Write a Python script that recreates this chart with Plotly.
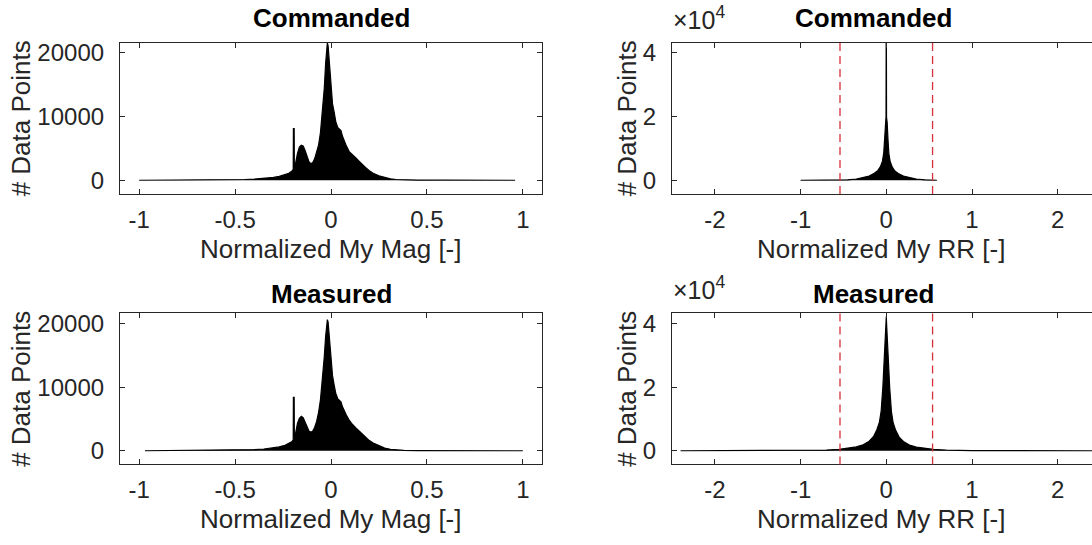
import plotly.graph_objects as go

# ---------------- data ----------------
mag_x_cmd = [-1.00, -0.80, -0.60, -0.50, -0.45, -0.40, -0.35, -0.30, -0.27, -0.24, -0.22, -0.205,
             -0.197, -0.196, -0.192, -0.191, -0.185, -0.175, -0.165, -0.155, -0.145, -0.135, -0.125,
             -0.115, -0.105, -0.095, -0.085, -0.075, -0.065, -0.055, -0.045, -0.035, -0.028, -0.022,
             -0.019, -0.015, -0.010, -0.005, 0.000, 0.008, 0.016, 0.025, 0.035, 0.045, 0.052, 0.060,
             0.070, 0.080, 0.095, 0.110, 0.130, 0.150, 0.165, 0.180, 0.200, 0.220, 0.250, 0.280,
             0.310, 0.340, 0.380, 0.450, 0.600, 0.800, 0.960]
mag_y_cmd = [0, 20, 40, 80, 120, 180, 280, 450, 600, 850, 1100, 1400,
             1700, 8100, 8100, 2000, 2600, 4200, 5200, 5500, 5400, 4700, 3700,
             2900, 2600, 2800, 3400, 4300, 5500, 7500, 10500, 14500, 18400, 21000,
             21600, 21100, 19000, 16500, 14500, 12000, 10800, 9200, 8300, 8000, 7800, 6900,
             6100, 5400, 4500, 4000, 3500, 2900, 2400, 2000, 1500, 1100, 700, 400,
             220, 120, 60, 25, 10, 5, 0]

mag_x_meas = [-0.97, -0.80, -0.60, -0.50, -0.45, -0.40, -0.35, -0.30, -0.27, -0.24, -0.22, -0.205,
              -0.197, -0.196, -0.192, -0.191, -0.185, -0.175, -0.165, -0.155, -0.145, -0.135, -0.125,
              -0.115, -0.105, -0.095, -0.085, -0.075, -0.065, -0.055, -0.045, -0.035, -0.028, -0.022,
              -0.019, -0.015, -0.010, -0.005, 0.000, 0.008, 0.016, 0.025, 0.035, 0.045, 0.052, 0.060,
              0.070, 0.080, 0.095, 0.110, 0.130, 0.150, 0.165, 0.180, 0.200, 0.220, 0.250, 0.280,
              0.310, 0.340, 0.380, 0.450, 0.600, 0.800, 1.000]
mag_y_meas = [0, 20, 40, 80, 120, 180, 280, 450, 600, 850, 1100, 1400,
              1700, 8400, 8400, 2100, 2700, 4300, 5100, 5400, 5200, 4600, 3800,
              3100, 2900, 3100, 3700, 4600, 6000, 8000, 11000, 14800, 18000, 20000,
              20600, 20200, 18200, 16000, 14000, 11800, 10400, 9000, 8200, 7900, 7700, 6900,
              6200, 5600, 4800, 4200, 3600, 3000, 2500, 2100, 1600, 1200, 750, 420,
              230, 130, 60, 25, 10, 5, 0]

rr_x_cmd = [-1.00, -0.60, -0.45, -0.35, -0.26, -0.20, -0.14, -0.10, -0.07, -0.045, -0.03, -0.02,
            -0.01, -0.003, -0.0015, 0.0015, 0.003, 0.01, 0.02, 0.03, 0.045, 0.07, 0.10, 0.14,
            0.20, 0.26, 0.35, 0.45, 0.59]
rr_y_cmd = [0, 30, 150, 400, 900, 1300, 2200, 3000, 4200, 6000, 8500, 13000,
            18500, 20000, 43200, 43200, 19800, 18300, 12800, 8400, 5900, 4100, 2900, 2100,
            1300, 850, 400, 150, 0]

rr_x_meas = [-2.40, -1.00, -0.70, -0.55, -0.45, -0.35, -0.27, -0.20, -0.15, -0.11, -0.08, -0.06,
             -0.04, -0.025, -0.014, -0.006, 0.000, 0.006, 0.014, 0.025, 0.04, 0.06, 0.08, 0.11,
             0.15, 0.20, 0.27, 0.35, 0.45, 0.55, 0.70, 1.00, 2.40]
rr_y_meas = [0, 60, 200, 450, 750, 1200, 1900, 3000, 4400, 6600, 9000, 12500,
             20000, 27500, 34000, 39000, 42200, 38600, 33500, 27000, 19800, 12300, 8800, 6400,
             4300, 2900, 1800, 1150, 700, 420, 180, 50, 0]

rr_limits = [-0.54, 0.54]

titles = ["Commanded", "Commanded", "Measured", "Measured"]
xlabels = ["Normalized My Mag [-]", "Normalized My RR [-]"]
ylabel = "# Data Points"

mag_ticks = [-1, -0.5, 0, 0.5, 1]
mag_ticktext = ["-1", "-0.5", "0", "0.5", "1"]
rr_ticks = [-2, -1, 0, 1, 2]
rr_ticktext = ["-2", "-1", "0", "1", "2"]
mag_yticks = [0, 10000, 20000]
mag_yticktext = ["0", "10000", "20000"]
rr_yticks = [0, 20000, 40000]
rr_yticktext = ["0", "2", "4"]

# ---------------- layout geometry (pixels) ----------------
W, H = 1092, 545
FONT = "Liberation Sans, Arial, Helvetica, sans-serif"
TXT = "#262626"

def px(v):
    return v / W

def py(v):
    return 1 - v / H

L_x0, L_x1 = 120, 542
R_x0, R_x1 = 672, 1092
rows = [(40, 192), (312, 464)]
title_y = [15, 293]
title_cx = [331, 873]
xlabel_cx = [331, 881]
ylabel_x = [21, 627]

fig = go.Figure()

def add_hist(x, y, xa, ya):
    fig.add_trace(go.Scatter(x=x, y=y, xaxis=xa, yaxis=ya, mode="lines",
                             fill="tozeroy", fillcolor="black",
                             line=dict(color="black", width=1.2),
                             showlegend=False, hoverinfo="skip"))

add_hist(mag_x_cmd, mag_y_cmd, "x", "y")
add_hist(rr_x_cmd, rr_y_cmd, "x2", "y2")
add_hist(mag_x_meas, mag_y_meas, "x3", "y3")
add_hist(rr_x_meas, rr_y_meas, "x4", "y4")

common = dict(showline=True, linecolor=TXT, linewidth=1.2, ticks="inside", ticklen=5,
              tickcolor=TXT, tickwidth=1, showgrid=False, zeroline=False,
              tickfont=dict(family=FONT, size=24, color=TXT))

lay = {}
for i, (r, c) in enumerate([(0, 0), (0, 1), (1, 0), (1, 1)]):
    n = "" if i == 0 else str(i + 1)
    y0, y1 = rows[r]
    if c == 0:
        xd = [px(L_x0), px(L_x1)]
        xr = [-1.1, 1.1]
        xt, xtt = mag_ticks, mag_ticktext
        yr = [-2150, 21600]
        yt, ytt = mag_yticks, mag_yticktext
        ymirror = "ticks"
    else:
        xd = [px(R_x0), 1.0]
        xr = [-2.5, 2.4]
        xt, xtt = rr_ticks, rr_ticktext
        yr = [-4300, 43200]
        yt, ytt = rr_yticks, rr_yticktext
        ymirror = False
    lay["xaxis" + n] = dict(common, domain=xd, range=xr, tickvals=xt, ticktext=xtt,
                            anchor="y" + n, mirror="ticks", ticklabelstandoff=4)
    lay["yaxis" + n] = dict(common, domain=[py(y1), py(y0)], range=yr, tickvals=yt,
                            ticktext=ytt, anchor="x" + n, mirror=ymirror,
                            ticklabelstandoff=10)

annotations = []
for i, (r, c) in enumerate([(0, 0), (0, 1), (1, 0), (1, 1)]):
    y0, y1 = rows[r]
    annotations.append(dict(text="<b>" + titles[i] + "</b>", x=px(title_cx[c]),
                            y=py(title_y[r]), xref="paper", yref="paper",
                            xanchor="center", yanchor="middle", showarrow=False,
                            font=dict(family=FONT, size=26, color="black")))
    annotations.append(dict(text=xlabels[c], x=px(xlabel_cx[c]), y=py(y1 + 55),
                            xref="paper", yref="paper", xanchor="center",
                            yanchor="middle", showarrow=False,
                            font=dict(family=FONT, size=26, color=TXT)))
    annotations.append(dict(text=ylabel, x=px(ylabel_x[c]), y=py((y0 + y1) / 2),
                            xref="paper", yref="paper", xanchor="center",
                            yanchor="middle", textangle=-90, showarrow=False,
                            font=dict(family=FONT, size=26, color=TXT)))
    if c == 1:
        annotations.append(dict(text="\u00d710<sup>4</sup>", x=px(R_x0 - 1), y=py(y0 - 7),
                                xref="paper", yref="paper", xanchor="left",
                                yanchor="bottom", showarrow=False,
                                font=dict(family=FONT, size=25, color=TXT)))

shapes = []
for ax_n in ["2", "4"]:
    for v in rr_limits:
        shapes.append(dict(type="line", xref="x" + ax_n, yref="y" + ax_n + " domain",
                           x0=v, x1=v, y0=0, y1=1,
                           line=dict(color="rgb(214,48,58)", width=1.3, dash="8px,5px")))

fig.update_layout(width=W, height=H, margin=dict(l=0, r=0, t=0, b=0),
                  paper_bgcolor="white", plot_bgcolor="white",
                  annotations=annotations, shapes=shapes, **lay)

fig.write_html("out.html")
